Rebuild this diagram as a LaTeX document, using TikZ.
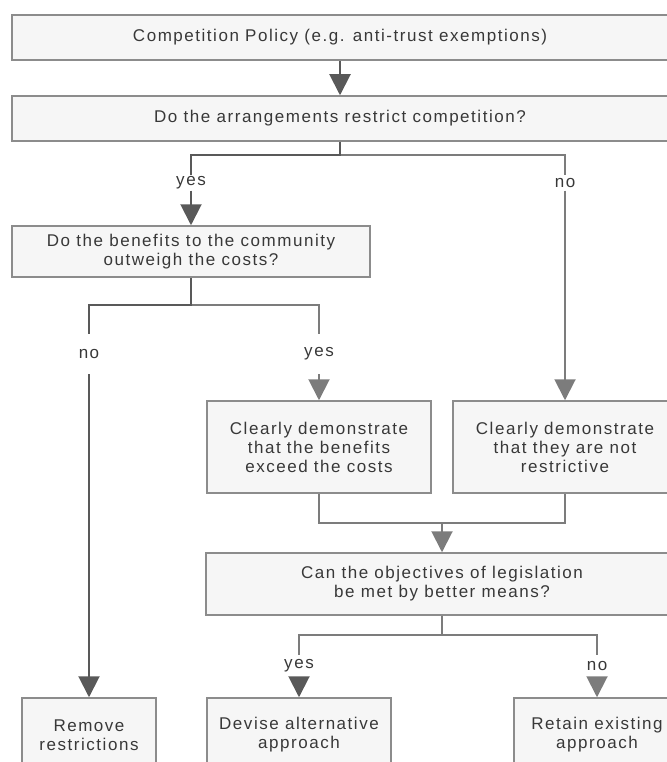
\documentclass[tikz,border=0pt]{standalone}
\usepackage{fontspec}
\setmainfont{Liberation Sans}[LetterSpace=9]
\usetikzlibrary{arrows.meta}
\definecolor{boxline}{HTML}{8C8C8C}
\definecolor{boxfill}{HTML}{F6F6F6}
\definecolor{txt}{HTML}{383838}
\definecolor{dkline}{HTML}{595959}
\definecolor{ltline}{HTML}{7C7C7C}
\tikzset{
  every node/.style={font=\fontsize{17}{19}\selectfont, text=txt},
  box/.style={draw=boxline, fill=boxfill, line width=1.5pt, align=center, inner sep=0pt},
  lbl/.style={inner sep=0pt, align=center},
  dk/.style={draw=dkline, line width=2pt},
  lt/.style={draw=ltline, line width=2pt},
  arr/.style={-{Triangle[length=21pt,width=21pt]}},
}
\begin{document}
\begin{tikzpicture}[x=1pt,y=-1pt]
\useasboundingbox (0,0) rectangle (666,762);
% boxes
\node[box, minimum width=656pt, minimum height=45pt] (box1) at (340,37.5) {Competition Policy (e.g. anti-trust exemptions)};
\node[box, minimum width=656pt, minimum height=45pt] (box2) at (340,118.5) {Do the arrangements restrict competition?};
\node[box, minimum width=358pt, minimum height=51pt] (box3) at (191,251.5) {Do the benefits to the community\\outweigh the costs?};
\node[box, minimum width=224pt, minimum height=92pt] (box4) at (319,447) {Clearly demonstrate\\that the benefits\\exceed the costs};
\node[box, minimum width=224pt, minimum height=92pt] (box5) at (565,447) {Clearly demonstrate\\that they are not\\restrictive};
\node[box, minimum width=472pt, minimum height=62pt] (box6) at (442,584) {Can the objectives of legislation\\be met by better means?};
\node[box, minimum width=134pt, minimum height=74pt] (box7) at (89,735) {Remove\\restrictions};
\node[box, minimum width=184pt, minimum height=74pt] (box8) at (299,735) {Devise alternative\\approach};
\node[box, minimum width=166pt, minimum height=74pt] (box9) at (597,735) {Retain existing\\approach};
% labels
\node[lbl, minimum height=15pt] (l1) at (191,183) {yes};
\node[lbl, minimum height=15pt] (l2) at (565,183) {no};
\node[lbl, minimum height=40pt] (l3) at (89,354) {no};
\node[lbl, minimum height=40pt] (l4) at (319,354) {yes};
\node[lbl, minimum height=22pt] (l5) at (299,666) {yes};
\node[lbl, minimum height=22pt] (l6) at (597,666) {no};
% junctions
\coordinate (c1) at (340,155);
\coordinate (c2) at (191,305);
\coordinate (m) at (442,523);
\coordinate (c3) at (442,635);
% connectors
\draw[dk,arr] (box1.south) -- (box2.north);
\draw[lt] (c1) -| (l2.north);
\draw[dk] (box2.south) -- (c1) -| (l1.north);
\draw[dk,arr] (l1.south) -- (box3.north);
\draw[lt,arr] (l2.south) -- (box5.north);
\draw[lt] (c2) -| (l4.north);
\draw[dk] (box3.south) -- (c2) -| (l3.north);
\draw[dk,arr] (l3.south) -- (box7.north);
\draw[lt,arr] (l4.south) -- (box4.north);
\draw[lt] (box4.south) |- (m) -| (box5.south);
\draw[lt,arr] (m) -- (box6.north);
\draw[lt] (box6.south) -- (c3) -| (l5.north);
\draw[lt] (c3) -| (l6.north);
\draw[dk,arr] (l5.south) -- (box8.north);
\draw[lt,arr] (l6.south) -- (box9.north);
\end{tikzpicture}
\end{document}
